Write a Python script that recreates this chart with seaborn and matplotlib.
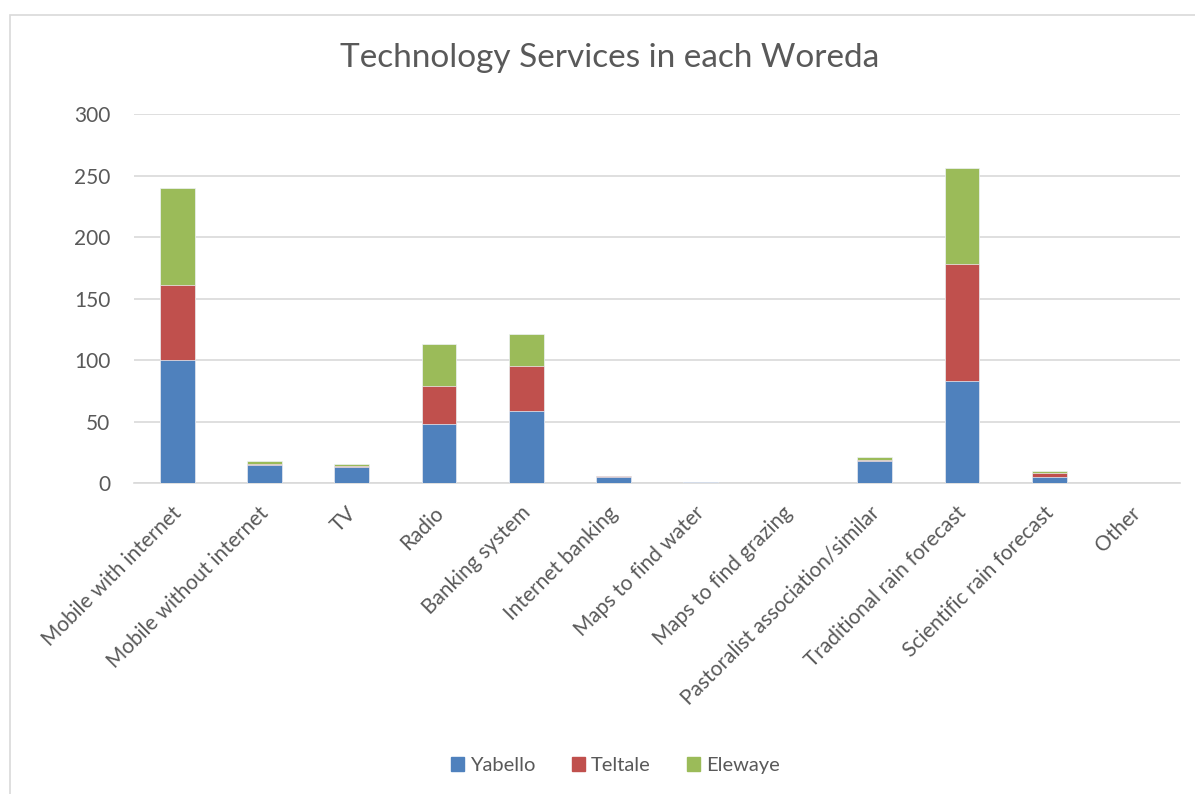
import matplotlib
matplotlib.use("Agg")
import matplotlib.pyplot as plt
import matplotlib.transforms as mtransforms
import seaborn as sns
import numpy as np
import pandas as pd
from matplotlib.patches import Rectangle

categories = ["Mobile with internet", "Mobile without internet", "TV", "Radio",
              "Banking system", "Internet banking", "Maps to find water",
              "Maps to find grazing", "Pastoralist association/similar",
              "Traditional rain forecast", "Scientific rain forecast", "Other"]
yabello = [100, 15, 13, 48, 59, 5, 1, 0, 18, 83, 5, 0]
teltale = [61, 1, 1, 31, 36, 1, 0, 0, 1, 95, 3, 0]
elewaye = [79, 2, 2, 34, 26, 0, 0, 0, 2, 78, 2, 0]

series_names = ["Yabello", "Teltale", "Elewaye"]
colors = ["#4F81BD", "#C0504D", "#9BBB59"]
text_col = "#595959"

sns.set_style("white")
plt.rcParams['font.family'] = ['Lato', 'DejaVu Sans']

df = pd.DataFrame({"cat": categories, "Yabello": yabello,
                   "Teltale": teltale, "Elewaye": elewaye})
df["c1"] = df["Yabello"]
df["c2"] = df["c1"] + df["Teltale"]
df["c3"] = df["c2"] + df["Elewaye"]

fig = plt.figure(figsize=(11.95, 7.94), dpi=100)
ax = fig.add_axes([0.1121, 0.3913, 0.8753, 0.4651])

# stacked: draw cumulative totals from top series down
for col, c in zip(["c3", "c2", "c1"], colors[::-1]):
    sns.barplot(data=df, x="cat", y=col, order=categories, color=c,
                width=0.4, ax=ax, saturation=1, zorder=3,
                edgecolor="#eef2f7", linewidth=0.5)

ax.set_ylim(0, 300)
ax.set_xlim(-0.5, len(categories) - 0.5)
ax.set_yticks(np.arange(0, 301, 50))
ax.yaxis.grid(True, color="#D9D9D9", linewidth=1.2, zorder=0)
ax.set_axisbelow(True)
for s in ["top", "right", "left"]:
    ax.spines[s].set_visible(False)
ax.spines["bottom"].set_color("#D9D9D9")
ax.spines["bottom"].set_linewidth(1.2)
ax.set_xlabel("")
ax.set_ylabel("")
ax.tick_params(axis="both", length=0, colors=text_col, labelsize=15)
ax.tick_params(axis="y", pad=17)
ax.set_xticks(range(len(categories)))
ax.set_xticklabels(categories, rotation=45, ha="right", va="top",
                   rotation_mode="anchor", color=text_col, fontsize=15)
ax.tick_params(axis="x", pad=14)
shift = mtransforms.ScaledTranslation(-6 / 100, 0, fig.dpi_scale_trans)
for lbl in ax.get_xticklabels():
    lbl.set_transform(lbl.get_transform() + shift)

fig.text(0.51, 0.927, "Technology Services in each Woreda", ha="center",
         va="center", fontsize=24, color=text_col)

handles = [Rectangle((0, 0), 1, 1, color=c) for c in colors]
fig.legend(handles, series_names, loc="center", bbox_to_anchor=(0.515, 0.036),
           ncol=3, frameon=False, fontsize=14.5, labelcolor=text_col,
           handlelength=0.65, handleheight=0.65, handletextpad=0.3,
           columnspacing=1.8)

# outer chart border
fig.patches.append(Rectangle((10 / 1195, -0.05), 1.2, 1 - 15 / 794 + 0.05,
                             transform=fig.transFigure, fill=False,
                             edgecolor="#D9D9D9", linewidth=1.2))

fig.savefig("out.png", dpi=100)
